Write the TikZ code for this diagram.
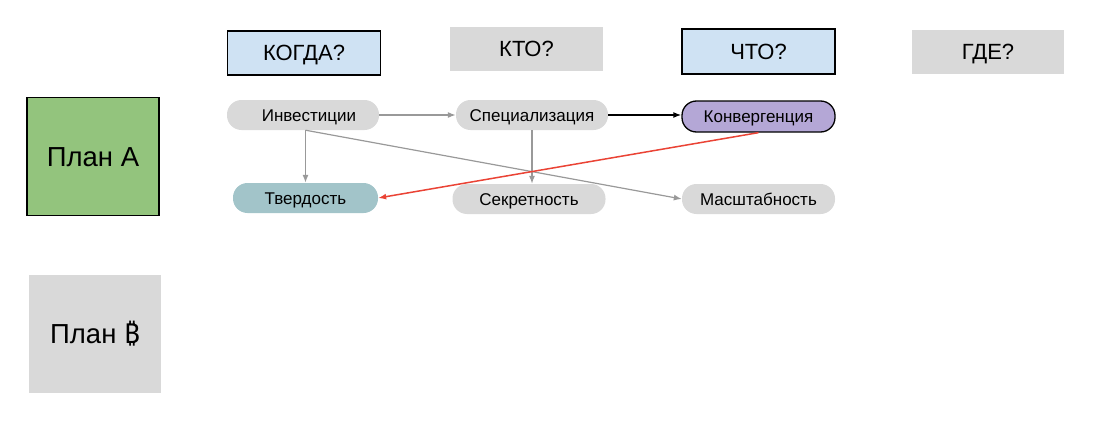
\documentclass[tikz,border=0pt]{standalone}
\usepackage{fontspec}
\setmainfont{Liberation Sans}
\newfontfamily\symfont{Noto Sans}
\usetikzlibrary{arrows.meta}
\definecolor{hblue}{HTML}{CFE2F3}
\definecolor{hgrey}{HTML}{D9D9D9}
\definecolor{pgreen}{HTML}{93C47D}
\definecolor{ppurple}{HTML}{B4A7D6}
\definecolor{pteal}{HTML}{A2C4C9}
\definecolor{lgrey}{HTML}{999999}
\definecolor{ared}{HTML}{EA4335}
\tikzset{
  hdr/.style={rectangle, minimum width=153pt, minimum height=44pt, inner sep=0pt, text height=15.75pt, text depth=0pt, font=\fontsize{22}{26}\selectfont},
  hdrsel/.style={hdr, fill=hblue, draw=black, line width=1.2pt},
  hdrgrey/.style={hdr, fill=hgrey},
  pill/.style={rectangle, rounded corners=14.5pt, minimum width=152pt, minimum height=30pt, inner sep=0pt, text height=12.2pt, text depth=0pt, fill=hgrey, font=\fontsize{17}{20}\selectfont},
  plan/.style={rectangle, minimum width=132pt, minimum height=118pt, inner sep=0pt, text height=19.7pt, text depth=0pt, font=\fontsize{27.5}{32}\selectfont},
  garrow/.style={draw=lgrey, line width=1.2pt, -{Latex[length=8pt,width=6pt]}},
  barrow/.style={draw=black, line width=1.5pt, -{Latex[length=8pt,width=6pt]}},
  rarrow/.style={draw=ared, line width=1.5pt, -{Latex[length=8pt,width=6pt]}},
}
\begin{document}
\begin{tikzpicture}[x=1pt,y=-1pt]
\useasboundingbox (0,0) rectangle (1101,431);
% headers
\node[hdrsel] (when) at (304,53) {КОГДА?};
\node[hdrgrey] (who) at (526.5,49) {КТО?};
\node[hdrsel, minimum height=45pt] (what) at (758.5,51.5) {ЧТО?};
\node[hdrgrey, minimum width=152pt] (where) at (988,52) {ГДЕ?};
% plans
\node[plan, fill=pgreen, draw=black, line width=1.2pt] (planA) at (93,156.5) {План А};
\node[plan, fill=hgrey] (planB) at (95,334) {План {\symfont ₿}};
% pills
\node[pill] (inv) at (303,115) {\kern12pt Инвестиции};
\node[pill] (spec) at (532,115) {Специализация};
\node[pill, fill=ppurple, draw=black, line width=1.3pt, minimum width=153pt, minimum height=31pt] (konv) at (758.5,116.5) {Конвергенция};
\node[pill, fill=pteal, minimum width=145pt] (tverd) at (305.5,198) {Твердость};
\node[pill, minimum width=153pt] (sekr) at (529,199) {Секретность};
\node[pill, minimum width=153pt] (masht) at (758.5,199) {Масштабность};
% connectors
\draw[garrow] (inv.east) -- (spec.west);
\draw[barrow] (spec.east) -- (spec.east -| konv.west);
\draw[garrow] (inv.south -| tverd.north) -- (tverd.north);
\draw[garrow] (inv.south -| tverd.north) -- (masht.west);
\draw[garrow] (spec.south) -- (spec.south |- sekr.north);
\draw[rarrow] (konv.south) -- (tverd.east);
\end{tikzpicture}
\end{document}
